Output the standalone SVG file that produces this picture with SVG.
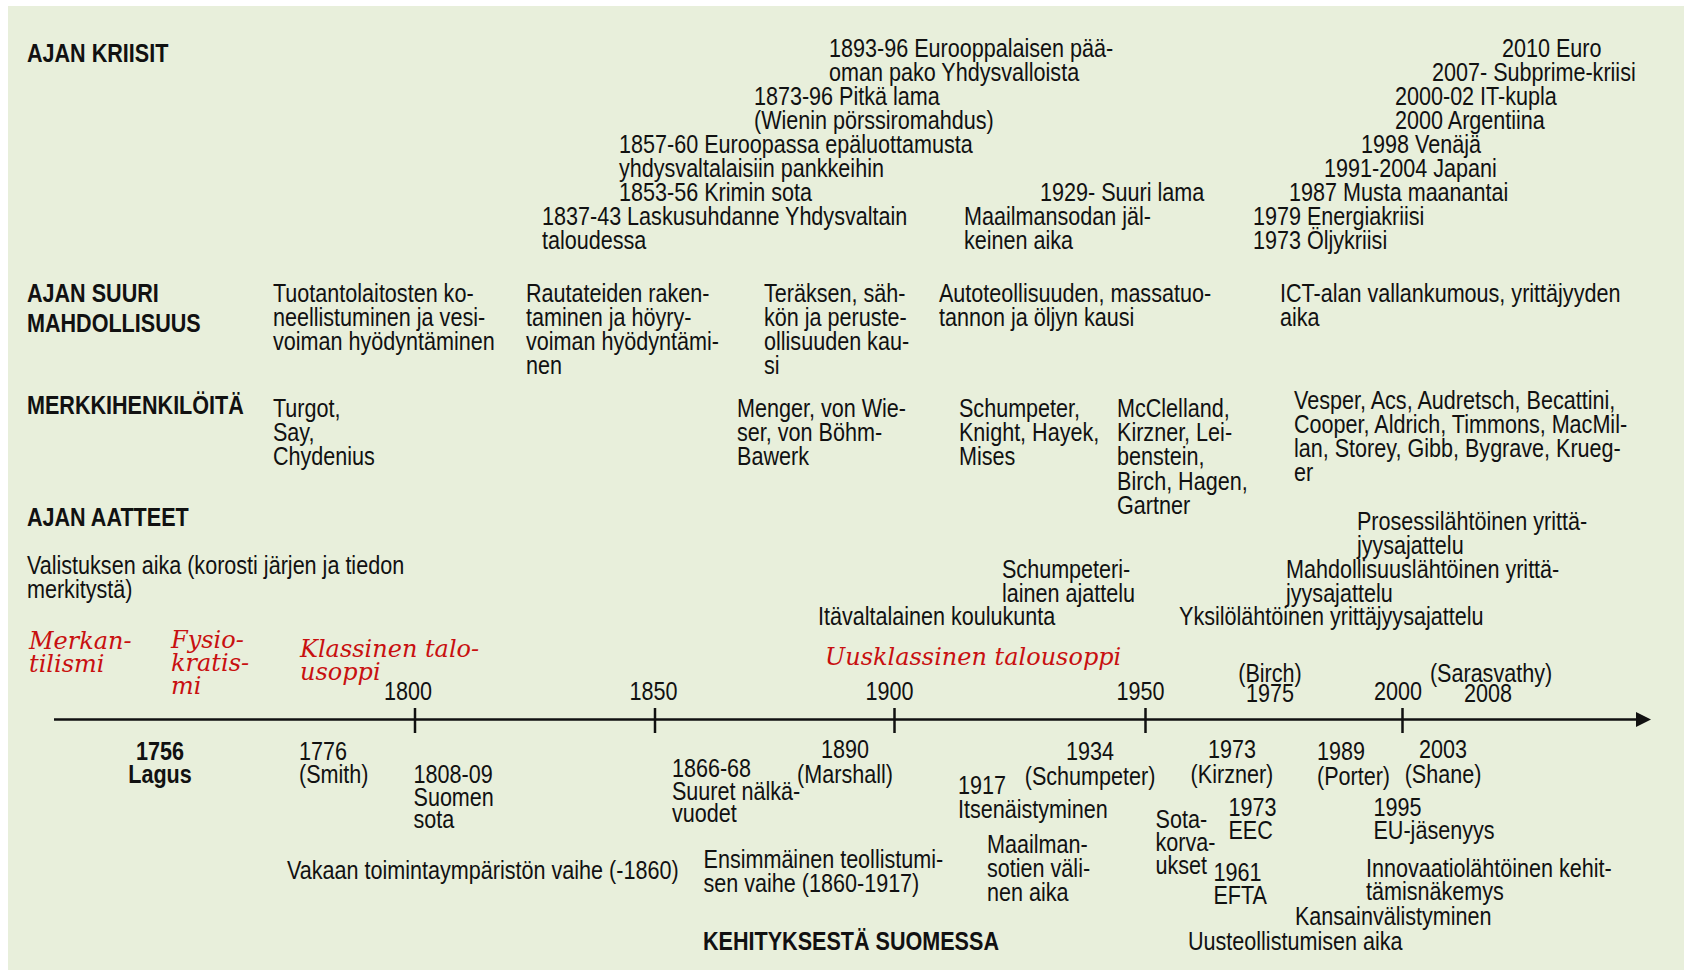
<svg xmlns="http://www.w3.org/2000/svg" width="1684" height="971" viewBox="0 0 1684 971">
<style>
.t{font-family:"Liberation Sans",Arial,sans-serif;font-size:26px;fill:#111;}
.h{font-family:"Liberation Sans",Arial,sans-serif;font-size:26px;font-weight:bold;fill:#111;}
.r{font-family:"DejaVu Serif","Liberation Serif",serif;font-size:24px;font-style:italic;fill:#c81010;}
.m{text-anchor:middle;}
.ax{stroke:#111;stroke-width:2.5;fill:none;}
</style>
<defs>
<marker id="arr" viewBox="0 0 15 15" refX="0" refY="7.5" markerWidth="15" markerHeight="15" markerUnits="userSpaceOnUse" orient="auto">
<path d="M0,0 L15,7.5 L0,15 Z" fill="#111"/>
</marker>
</defs>
<rect x="8" y="6" width="1676" height="964" fill="#e8efdb"/>

<g id="connectors">
<line class="ax" x1="54" y1="719.5" x2="1636" y2="719.5" marker-end="url(#arr)"/>
<line class="ax" x1="415" y1="708" x2="415" y2="733"/>
<line class="ax" x1="655" y1="708" x2="655" y2="733"/>
<line class="ax" x1="894.5" y1="708" x2="894.5" y2="733"/>
<line class="ax" x1="1145.5" y1="708" x2="1145.5" y2="733"/>
<line class="ax" x1="1402.5" y1="708" x2="1402.5" y2="733"/>
</g>

<g id="headings" transform="scale(0.83,1)">
<text id="hdr-kriisit" class="h" x="32.5" y="62">AJAN KRIISIT</text>
<text id="hdr-mahdollisuus" class="h"><tspan x="32.5" y="302">AJAN SUURI</tspan><tspan x="32.5" y="332">MAHDOLLISUUS</tspan></text>
<text id="hdr-henkilot" class="h" x="32.5" y="414">MERKKIHENKILÖITÄ</text>
<text id="hdr-aatteet" class="h" x="32.5" y="526">AJAN AATTEET</text>
<text id="hdr-suomi" class="h" x="847" y="950">KEHITYKSESTÄ SUOMESSA</text>
</g>

<g id="kriisit" transform="scale(0.83,1)">
<g id="k1893"><text class="t"><tspan x="998.8" y="57">1893-96 Eurooppalaisen pää-</tspan><tspan x="998.8" y="81">oman pako Yhdysvalloista</tspan></text></g>
<g id="k1873"><text class="t"><tspan x="908.4" y="105">1873-96 Pitkä lama</tspan><tspan x="908.4" y="129">(Wienin pörssiromahdus)</tspan></text></g>
<g id="k1857"><text class="t"><tspan x="745.8" y="153">1857-60 Euroopassa epäluottamusta</tspan><tspan x="745.8" y="177">yhdysvaltalaisiin pankkeihin</tspan></text></g>
<g id="k1853"><text class="t" x="745.8" y="201">1853-56 Krimin sota</text></g>
<g id="k1837"><text class="t"><tspan x="653" y="225">1837-43 Laskusuhdanne Yhdysvaltain</tspan><tspan x="653" y="249">taloudessa</tspan></text></g>
<g id="k1929"><text class="t" x="1253" y="201">1929- Suuri lama</text></g>
<g id="kmaailmansota"><text class="t"><tspan x="1161.4" y="225">Maailmansodan jäl-</tspan><tspan x="1161.4" y="249">keinen aika</tspan></text></g>
<g id="k2010"><text class="t" x="1809.6" y="57">2010 Euro</text></g>
<g id="k2007"><text class="t" x="1725.3" y="81">2007- Subprime-kriisi</text></g>
<g id="k2000a"><text class="t" x="1680.7" y="105">2000-02 IT-kupla</text></g>
<g id="k2000b"><text class="t" x="1680.7" y="129">2000 Argentiina</text></g>
<g id="k1998"><text class="t" x="1639.8" y="153">1998 Venäjä</text></g>
<g id="k1991"><text class="t" x="1595.2" y="177">1991-2004 Japani</text></g>
<g id="k1987"><text class="t" x="1553" y="201">1987 Musta maanantai</text></g>
<g id="k1979"><text class="t" x="1509.6" y="225">1979 Energiakriisi</text></g>
<g id="k1973"><text class="t" x="1509.6" y="249">1973 Öljykriisi</text></g>
</g>

<g id="mahdollisuudet" transform="scale(0.83,1)">
<g id="m1"><text class="t"><tspan x="328.9" y="302">Tuotantolaitosten ko-</tspan><tspan x="328.9" y="326">neellistuminen ja vesi-</tspan><tspan x="328.9" y="350">voiman hyödyntäminen</tspan></text></g>
<g id="m2"><text class="t"><tspan x="633.7" y="302">Rautateiden raken-</tspan><tspan x="633.7" y="326">taminen ja höyry-</tspan><tspan x="633.7" y="350">voiman hyödyntämi-</tspan><tspan x="633.7" y="374">nen</tspan></text></g>
<g id="m3"><text class="t"><tspan x="920.5" y="302">Teräksen, säh-</tspan><tspan x="920.5" y="326">kön ja peruste-</tspan><tspan x="920.5" y="350">ollisuuden kau-</tspan><tspan x="920.5" y="374">si</tspan></text></g>
<g id="m4"><text class="t"><tspan x="1131.3" y="302">Autoteollisuuden, massatuo-</tspan><tspan x="1131.3" y="326">tannon ja öljyn kausi</tspan></text></g>
<g id="m5"><text class="t"><tspan x="1542.2" y="302">ICT-alan vallankumous, yrittäjyyden</tspan><tspan x="1542.2" y="326">aika</tspan></text></g>
</g>

<g id="henkilot" transform="scale(0.83,1)">
<g id="p1"><text class="t"><tspan x="328.9" y="417">Turgot,</tspan><tspan x="328.9" y="441">Say,</tspan><tspan x="328.9" y="465">Chydenius</tspan></text></g>
<g id="p2"><text class="t"><tspan x="888" y="417">Menger, von Wie-</tspan><tspan x="888" y="441">ser, von Böhm-</tspan><tspan x="888" y="465">Bawerk</tspan></text></g>
<g id="p3"><text class="t"><tspan x="1155.4" y="417">Schumpeter,</tspan><tspan x="1155.4" y="441">Knight, Hayek,</tspan><tspan x="1155.4" y="465">Mises</tspan></text></g>
<g id="p4"><text class="t"><tspan x="1345.8" y="417">McClelland,</tspan><tspan x="1345.8" y="441">Kirzner, Lei-</tspan><tspan x="1345.8" y="465">benstein,</tspan><tspan x="1345.8" y="490">Birch, Hagen,</tspan><tspan x="1345.8" y="514">Gartner</tspan></text></g>
<g id="p5"><text class="t"><tspan x="1559" y="409">Vesper, Acs, Audretsch, Becattini,</tspan><tspan x="1559" y="433">Cooper, Aldrich, Timmons, MacMil-</tspan><tspan x="1559" y="457">lan, Storey, Gibb, Bygrave, Krueg-</tspan><tspan x="1559" y="481">er</tspan></text></g>
</g>

<g id="aatteet" transform="scale(0.83,1)">
<g id="a-valistus"><text class="t"><tspan x="32.5" y="574">Valistuksen aika (korosti järjen ja tiedon</tspan><tspan x="32.5" y="598">merkitystä)</tspan></text></g>
<g id="a-prosessi"><text class="t"><tspan x="1634.9" y="530">Prosessilähtöinen yrittä-</tspan><tspan x="1634.9" y="554">jyysajattelu</tspan></text></g>
<g id="a-mahdollisuus"><text class="t"><tspan x="1549.4" y="578">Mahdollisuuslähtöinen yrittä-</tspan><tspan x="1549.4" y="602">jyysajattelu</tspan></text></g>
<g id="a-yksilo"><text class="t" x="1420.5" y="625">Yksilölähtöinen yrittäjyysajattelu</text></g>
<g id="a-schumpeter"><text class="t"><tspan x="1207.2" y="578">Schumpeteri-</tspan><tspan x="1207.2" y="602">lainen ajattelu</tspan></text></g>
<g id="a-itavalta"><text class="t" x="985.5" y="625">Itävaltalainen koulukunta</text></g>
</g>

<g id="talousopit">
<g id="a-merkantilismi"><text class="r"><tspan x="29" y="649">Merkan-</tspan><tspan x="29" y="672">tilismi</tspan></text></g>
<g id="a-fysiokratismi"><text class="r"><tspan x="171" y="648">Fysio-</tspan><tspan x="171" y="671">kratis-</tspan><tspan x="171" y="694">mi</tspan></text></g>
<g id="a-klassinen"><text class="r"><tspan x="300" y="657">Klassinen talo-</tspan><tspan x="300" y="680">usoppi</tspan></text></g>
<g id="a-uusklassinen"><text class="r" x="825" y="665">Uusklassinen talousoppi</text></g>
</g>

<g id="vuodet" transform="scale(0.83,1)">
<text id="y1800" class="t m" x="491.6" y="700">1800</text>
<text id="y1850" class="t m" x="787.3" y="700">1850</text>
<text id="y1900" class="t m" x="1071.7" y="700">1900</text>
<text id="y1950" class="t m" x="1374.1" y="700">1950</text>
<text id="y2000" class="t m" x="1684.3" y="700">2000</text>
<g id="y1975"><text class="t m"><tspan x="1530.1" y="682">(Birch)</tspan><tspan x="1530.1" y="702">1975</tspan></text></g>
<g id="y2008"><text class="t m"><tspan x="1796.4" y="682">(Sarasvathy)</tspan><tspan x="1792.8" y="702">2008</tspan></text></g>
</g>

<g id="suomi" transform="scale(0.83,1)">
<g id="s1756"><text class="h m"><tspan x="192.8" y="760">1756</tspan><tspan x="192.8" y="783">Lagus</tspan></text></g>
<g id="s1776"><text class="t"><tspan x="360.2" y="760">1776</tspan><tspan x="360.2" y="783">(Smith)</tspan></text></g>
<g id="s1808"><text class="t"><tspan x="498.2" y="783">1808-09</tspan><tspan x="498.2" y="806">Suomen</tspan><tspan x="498.2" y="828">sota</tspan></text></g>
<g id="s1866"><text class="t"><tspan x="809.6" y="777">1866-68</tspan><tspan x="809.6" y="800">Suuret nälkä-</tspan><tspan x="809.6" y="822">vuodet</tspan></text></g>
<g id="s1890"><text class="t m"><tspan x="1018.1" y="758">1890</tspan><tspan x="1018.1" y="783">(Marshall)</tspan></text></g>
<g id="s1917"><text class="t"><tspan x="1154.2" y="794">1917</tspan><tspan x="1154.2" y="818">Itsenäistyminen</tspan></text></g>
<g id="s1934"><text class="t m"><tspan x="1313.3" y="760">1934</tspan><tspan x="1313.3" y="785">(Schumpeter)</tspan></text></g>
<g id="s-maailmansodat"><text class="t"><tspan x="1189.2" y="853">Maailman-</tspan><tspan x="1189.2" y="877">sotien väli-</tspan><tspan x="1189.2" y="901">nen aika</tspan></text></g>
<g id="s-vakaa"><text class="t" x="345.8" y="879">Vakaan toimintaympäristön vaihe (-1860)</text></g>
<g id="s-ensimmainen"><text class="t"><tspan x="847.6" y="868">Ensimmäinen teollistumi-</tspan><tspan x="847.6" y="892">sen vaihe (1860-1917)</tspan></text></g>
<g id="s1973k"><text class="t m"><tspan x="1484.3" y="758">1973</tspan><tspan x="1484.3" y="783">(Kirzner)</tspan></text></g>
<g id="s1989"><text class="t"><tspan x="1586.7" y="760">1989</tspan><tspan x="1586.7" y="785">(Porter)</tspan></text></g>
<g id="s2003"><text class="t m"><tspan x="1738.6" y="758">2003</tspan><tspan x="1738.6" y="783">(Shane)</tspan></text></g>
<g id="s-sotakorvaukset"><text class="t"><tspan x="1392.2" y="828">Sota-</tspan><tspan x="1392.2" y="851">korva-</tspan><tspan x="1392.2" y="874">ukset</tspan></text></g>
<g id="s1973e"><text class="t"><tspan x="1480.1" y="816">1973</tspan><tspan x="1480.1" y="839">EEC</tspan></text></g>
<g id="s1961"><text class="t"><tspan x="1462" y="881">1961</tspan><tspan x="1462" y="904">EFTA</tspan></text></g>
<g id="s1995"><text class="t"><tspan x="1654.8" y="816">1995</tspan><tspan x="1654.8" y="839">EU-jäsenyys</tspan></text></g>
<g id="s-innovaatio"><text class="t"><tspan x="1645.8" y="877">Innovaatiolähtöinen kehit-</tspan><tspan x="1645.8" y="900">tämisnäkemys</tspan></text></g>
<g id="s-kansainvalistyminen"><text class="t" x="1560.2" y="925">Kansainvälistyminen</text></g>
<g id="s-uusteollistuminen"><text class="t" x="1431.3" y="950">Uusteollistumisen aika</text></g>
</g>
</svg>
